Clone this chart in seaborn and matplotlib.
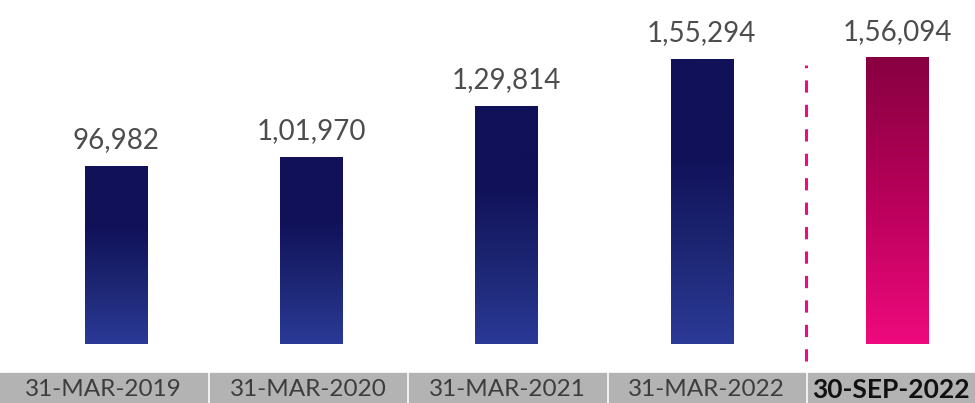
import matplotlib
matplotlib.use("Agg")
import matplotlib.pyplot as plt
import seaborn as sns
import pandas as pd
import numpy as np
from matplotlib.colors import LinearSegmentedColormap

# Chart data
dates = ["31-MAR-2019", "31-MAR-2020", "31-MAR-2021", "31-MAR-2022", "30-SEP-2022"]
values = [96982, 101970, 129814, 155294, 156094]
labels = ["96,982", "1,01,970", "1,29,814", "1,55,294", "1,56,094"]

df = pd.DataFrame({"Date": dates, "Value": values})

sns.set_theme(style="white")
plt.rcParams["font.family"] = ["Lato", "DejaVu Sans"]

fig = plt.figure(figsize=(9.75, 4.03), dpi=100)
ax = fig.add_axes([0, 59 / 403, 1, 344 / 403])

sns.barplot(data=df, x="Date", y="Value", width=0.318, color="#1b1f6e", ax=ax)
ax.set_xlim(-0.594, 4.399)
ax.set_ylim(0, 187300)
ax.axis("off")

blue = LinearSegmentedColormap.from_list("blue", ["#2b3a97", "#1d2673", "#101158", "#101158"])
pink = LinearSegmentedColormap.from_list("pink", ["#ef0a7d", "#b8005a", "#870040"])
grad = np.linspace(0, 1, 256).reshape(-1, 1)

for i, patch in enumerate(ax.patches):
    x0, y0 = patch.get_x(), patch.get_y()
    w, h = patch.get_width(), patch.get_height()
    cmap = pink if i == len(ax.patches) - 1 else blue
    im = ax.imshow(grad, cmap=cmap, aspect="auto", origin="lower",
                   extent=[x0, x0 + w, y0, y0 + h], zorder=3)
    im.set_clip_path(patch)
    patch.set_edgecolor("none")

ax.bar_label(ax.containers[0], labels=labels, padding=9, fontsize=20, color="#4d4d4d")

# dashed separator before the latest period
ax.axvline(3.535, ymin=-0.05, ymax=0.81, color="#ee0a80", linestyle=(0, (4, 4)),
           linewidth=2.2, clip_on=False)

# bottom date band
band = fig.add_axes([0, 0, 1, 30 / 403])
band.set_xlim(0, 975)
band.set_ylim(0, 1)
band.axis("off")
for i, d in enumerate(dates):
    left = 10.7 + i * 199.3
    right = left + 196.3
    if i == 0:
        left = 0
    band.add_patch(plt.Rectangle((left, 0), right - left, 1, color="#b3b3b3", clip_on=False))
    if i == len(dates) - 1:
        band.text(left + 4, 0.45, d, ha="left", va="center", fontsize=19,
                  color="#111111", fontweight="bold")
    else:
        band.text((left + right) / 2, 0.45, d, ha="center", va="center",
                  fontsize=17.5, color="#3d3d3d")

fig.savefig("out.png", dpi=100)
